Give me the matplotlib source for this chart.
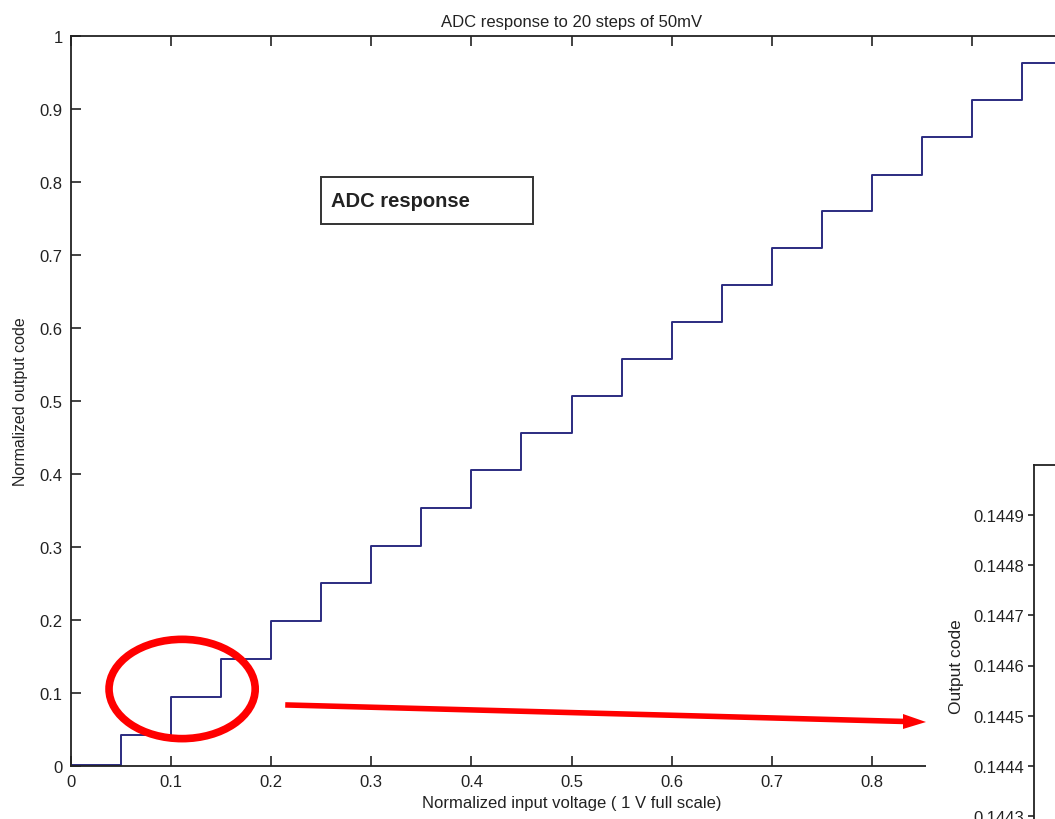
import matplotlib.pyplot as plt
from matplotlib.patches import Ellipse, Rectangle

# input step edges (normalized volts) and the output code held on each step
step_in = [0.0, 0.05, 0.10, 0.15, 0.20, 0.25, 0.30, 0.35, 0.40, 0.45,
           0.50, 0.55, 0.60, 0.65, 0.70, 0.75, 0.80, 0.85, 0.90, 0.95, 1.0]
step_out = [0.001, 0.042, 0.094, 0.146, 0.199, 0.251, 0.301, 0.353, 0.405, 0.456,
            0.507, 0.557, 0.608, 0.659, 0.710, 0.760, 0.810, 0.862, 0.912, 0.963, 0.963]

main_xticks = [0, 0.1, 0.2, 0.3, 0.4, 0.5, 0.6, 0.7, 0.8, 0.9, 1.0]
main_yticks = [0, 0.1, 0.2, 0.3, 0.4, 0.5, 0.6, 0.7, 0.8, 0.9, 1.0]
zoom_yticks = [0.1443, 0.1444, 0.1445, 0.1446, 0.1447, 0.1448, 0.1449]

plt.rcParams['font.family'] = ['Liberation Sans', 'DejaVu Sans']

W, H = 1055, 820
fig = plt.figure(figsize=(W / 100, H / 100), dpi=100)

def px(l, t, r, b):
    # pixel box -> figure fraction rect
    return [l / W, (H - b) / H, (r - l) / W, (b - t) / H]

ax = fig.add_axes(px(71, 37, 1072, 767))
ax.step(step_in, step_out, where='post', color='#2b2b80', lw=1.4)
ax.set_xlim(0, 1)
ax.set_ylim(0, 1)
ax.set_xticks(main_xticks)
ax.set_yticks(main_yticks)
ax.set_xticklabels(['0', '0.1', '0.2', '0.3', '0.4', '0.5', '0.6', '0.7', '0.8', '0.9', '1'])
ax.set_yticklabels(['0', '0.1', '0.2', '0.3', '0.4', '0.5', '0.6', '0.7', '0.8', '0.9', '1'])
ax.tick_params(direction='in', length=7, width=1.2, top=True, right=True,
               labelsize=12, colors='#222222', pad=6)
for s in ax.spines.values():
    s.set_linewidth(1.3)
    s.set_color('#222222')
ax.set_title('ADC response to 20 steps of 50mV', fontsize=12, color='#222222', pad=7)
ax.set_xlabel('Normalized input voltage ( 1 V full scale)', fontsize=12, color='#222222', labelpad=4)
ax.set_ylabel('Normalized output code', fontsize=11.5, color='#222222', labelpad=8)

# label box
ax.add_patch(Rectangle((0.25, 0.742), 0.2115, 0.065, fill=False, lw=1.4, ec='#333333'))
ax.text(0.26, 0.7745, 'ADC response', fontsize=14.5, fontweight='bold', va='center', color='#222222')

# highlight of the first steps
ax.add_patch(Ellipse((0.111, 0.1055), 0.146, 0.136, fill=False, ec='red', lw=5.5, zorder=5))

# white area where the zoomed plot is pasted
fig.add_artist(Rectangle((926 / W, 0), 1, (H - 410) / H, transform=fig.transFigure,
                         facecolor='white', edgecolor='none', zorder=3))

axz = fig.add_axes(px(1034, 466, 1400, 867))
axz.set_zorder(4)
axz.set_ylim(0.1442, 0.1450)
axz.set_xlim(0, 1)
axz.set_xticks([])
axz.set_yticks(zoom_yticks)
axz.set_yticklabels(['%.4f' % v for v in zoom_yticks])
axz.tick_params(direction='out', length=4, width=1.2, labelsize=12, colors='#222222', pad=3)
for s in axz.spines.values():
    s.set_linewidth(1.3)
    s.set_color('#222222')
axz.set_ylabel('Output code', fontsize=12.5, color='#222222', labelpad=7)

# arrow to the zoom
fig.add_artist(plt.Line2D([288 / W, 905 / W], [(H - 706) / H, (H - 722.5) / H],
                          transform=fig.transFigure, color='red', lw=4, zorder=6))
fig.add_artist(plt.Polygon([[903 / W, (H - 715) / H], [926 / W, (H - 723) / H],
                            [903 / W, (H - 730) / H]],
                           transform=fig.transFigure, closed=True,
                           facecolor='red', edgecolor='none', zorder=6))

fig.savefig('out.png', dpi=100)
